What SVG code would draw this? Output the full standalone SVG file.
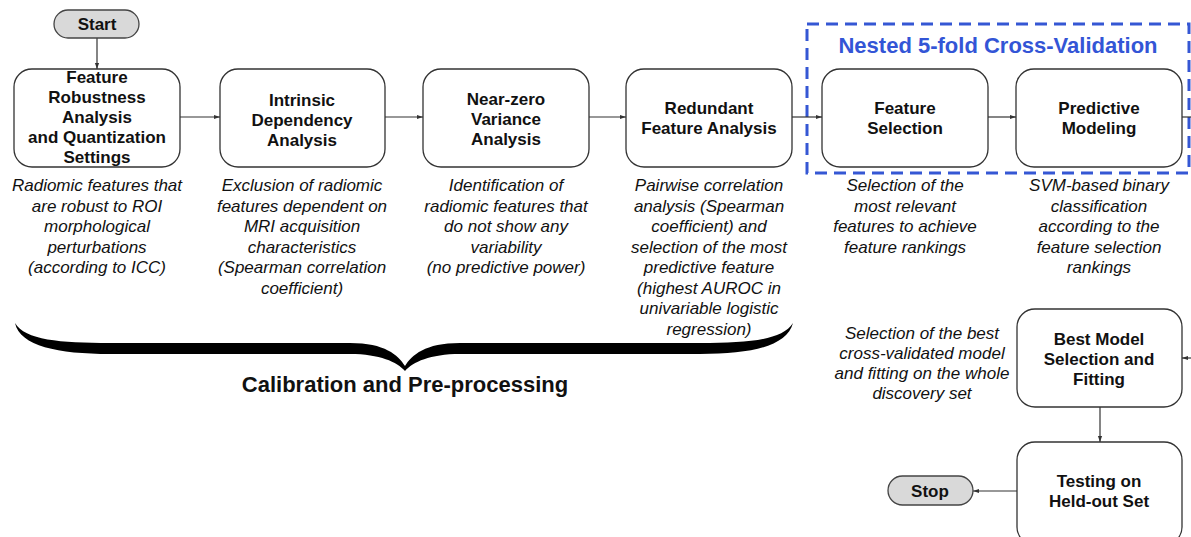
<svg xmlns="http://www.w3.org/2000/svg" width="1191" height="537" viewBox="0 0 1191 537">
<defs>
<style>
.box{fill:#fff;stroke:#333;stroke-width:1.3}
.term{fill:#d9d9d9;stroke:#444;stroke-width:1.3}
.lbl{font-family:"Liberation Sans",Arial,sans-serif;font-weight:bold;font-size:17px;fill:#111;text-anchor:middle}
.desc{font-family:"Liberation Sans",Arial,sans-serif;font-style:italic;font-size:17px;fill:#111;text-anchor:middle}
.conn{stroke:#333;stroke-width:1.2;fill:none}
</style>
<marker id="ah" viewBox="0 0 10 10" refX="10" refY="5" markerWidth="6" markerHeight="6" orient="auto" markerUnits="userSpaceOnUse">
<path d="M0,1.5 L10,5 L0,8.5 Z" fill="#333"/>
</marker>
</defs>
<rect width="1191" height="537" fill="#fff"/>

<g id="cv-group">
<rect x="807" y="24" width="382" height="149" fill="none" stroke="#3557d4" stroke-width="3" stroke-dasharray="12,7"/>
<text x="998" y="53" font-family="Liberation Sans,Arial,sans-serif" font-weight="bold" font-size="22" fill="#3355d6" text-anchor="middle">Nested 5-fold Cross-Validation</text>
</g>

<g id="connectors">
<line class="conn" x1="97" y1="38" x2="97" y2="69" marker-end="url(#ah)"/>
<line class="conn" x1="180" y1="117" x2="220" y2="117" marker-end="url(#ah)"/>
<line class="conn" x1="385" y1="117" x2="423" y2="117" marker-end="url(#ah)"/>
<line class="conn" x1="589" y1="117" x2="626" y2="117" marker-end="url(#ah)"/>
<line class="conn" x1="792" y1="117" x2="822" y2="117" marker-end="url(#ah)"/>
<line class="conn" x1="988" y1="117" x2="1016" y2="117" marker-end="url(#ah)"/>
<line class="conn" x1="1182" y1="117" x2="1191" y2="117"/>
<line class="conn" x1="1191" y1="358" x2="1182" y2="358" marker-end="url(#ah)"/>
<line class="conn" x1="1100" y1="407" x2="1100" y2="442" marker-end="url(#ah)"/>
<line class="conn" x1="1017" y1="491" x2="973" y2="491" marker-end="url(#ah)"/>
</g>

<g id="start">
<rect class="term" x="54" y="10" width="85" height="28" rx="14"/>
<text class="lbl" x="97" y="30">Start</text>
</g>

<g id="n1">
<rect class="box" x="14" y="69" width="166" height="98" rx="18"/>
<text class="lbl" x="97" y="83">Feature</text>
<text class="lbl" x="97" y="103">Robustness</text>
<text class="lbl" x="97" y="123">Analysis</text>
<text class="lbl" x="97" y="143">and Quantization</text>
<text class="lbl" x="97" y="163">Settings</text>
</g>

<g id="n2">
<rect class="box" x="220" y="69" width="165" height="98" rx="18"/>
<text class="lbl" x="302" y="106">Intrinsic</text>
<text class="lbl" x="302" y="126">Dependency</text>
<text class="lbl" x="302" y="146">Analysis</text>
</g>

<g id="n3">
<rect class="box" x="423" y="69" width="166" height="98" rx="18"/>
<text class="lbl" x="506" y="105">Near-zero</text>
<text class="lbl" x="506" y="125">Variance</text>
<text class="lbl" x="506" y="145">Analysis</text>
</g>

<g id="n4">
<rect class="box" x="626" y="69" width="166" height="98" rx="18"/>
<text class="lbl" x="709" y="114">Redundant</text>
<text class="lbl" x="709" y="134">Feature Analysis</text>
</g>

<g id="n5">
<rect class="box" x="822" y="69" width="166" height="98" rx="18"/>
<text class="lbl" x="905" y="114">Feature</text>
<text class="lbl" x="905" y="134">Selection</text>
</g>

<g id="n6">
<rect class="box" x="1016" y="69" width="166" height="98" rx="18"/>
<text class="lbl" x="1099" y="114">Predictive</text>
<text class="lbl" x="1099" y="134">Modeling</text>
</g>

<g id="n7">
<rect class="box" x="1017" y="309" width="165" height="98" rx="18"/>
<text class="lbl" x="1099" y="345">Best Model</text>
<text class="lbl" x="1099" y="365">Selection and</text>
<text class="lbl" x="1099" y="385">Fitting</text>
</g>

<g id="n8">
<rect class="box" x="1017" y="442" width="165" height="103" rx="18"/>
<text class="lbl" x="1099" y="487">Testing on</text>
<text class="lbl" x="1099" y="507">Held-out Set</text>
</g>

<g id="stop">
<rect class="term" x="888" y="476" width="85" height="29" rx="14.5"/>
<text class="lbl" x="930" y="497">Stop</text>
</g>

<g id="descriptions">
<text class="desc" x="97" y="191">Radiomic features that</text>
<text class="desc" x="97" y="211.5">are robust to ROI</text>
<text class="desc" x="97" y="232">morphological</text>
<text class="desc" x="97" y="252.5">perturbations</text>
<text class="desc" x="97" y="273">(according to ICC)</text>

<text class="desc" x="302" y="191">Exclusion of radiomic</text>
<text class="desc" x="302" y="211.5">features dependent on</text>
<text class="desc" x="302" y="232">MRI acquisition</text>
<text class="desc" x="302" y="252.5">characteristics</text>
<text class="desc" x="302" y="273">(Spearman correlation</text>
<text class="desc" x="302" y="293.5">coefficient)</text>

<text class="desc" x="506" y="191">Identification of</text>
<text class="desc" x="506" y="211.5">radiomic features that</text>
<text class="desc" x="506" y="232">do not show any</text>
<text class="desc" x="506" y="252.5">variability</text>
<text class="desc" x="506" y="273">(no predictive power)</text>

<text class="desc" x="709" y="191">Pairwise correlation</text>
<text class="desc" x="709" y="211.5">analysis (Spearman</text>
<text class="desc" x="709" y="232">coefficient) and</text>
<text class="desc" x="709" y="252.5">selection of the most</text>
<text class="desc" x="709" y="273">predictive feature</text>
<text class="desc" x="709" y="293.5">(highest AUROC in</text>
<text class="desc" x="709" y="314">univariable logistic</text>
<text class="desc" x="709" y="334.5">regression)</text>

<text class="desc" x="905" y="191">Selection of the</text>
<text class="desc" x="905" y="211.5">most relevant</text>
<text class="desc" x="905" y="232">features to achieve</text>
<text class="desc" x="905" y="252.5">feature rankings</text>

<text class="desc" x="1099" y="191">SVM-based binary</text>
<text class="desc" x="1099" y="211.5">classification</text>
<text class="desc" x="1099" y="232">according to the</text>
<text class="desc" x="1099" y="252.5">feature selection</text>
<text class="desc" x="1099" y="273">rankings</text>

<text class="desc" x="922" y="339">Selection of the best</text>
<text class="desc" x="922" y="359">cross-validated model</text>
<text class="desc" x="922" y="379">and fitting on the whole</text>
<text class="desc" x="922" y="399">discovery set</text>
</g>

<g id="brace">
<path d="M15,323 C25,340 60,343 110,343 L350,343 C385,343 398,355 405,366 C412,355 425,343 460,343 L700,343 C750,343 782,340 793,323 C787,346 752,354 700,354 L460,354 C430,354 413,362 405,371 C397,362 380,354 350,354 L110,354 C58,354 20,346 15,323 Z" fill="#000"/>
<text x="405" y="392" font-family="Liberation Sans,Arial,sans-serif" font-weight="bold" font-size="22" fill="#111" text-anchor="middle">Calibration and Pre-processing</text>
</g>
</svg>
